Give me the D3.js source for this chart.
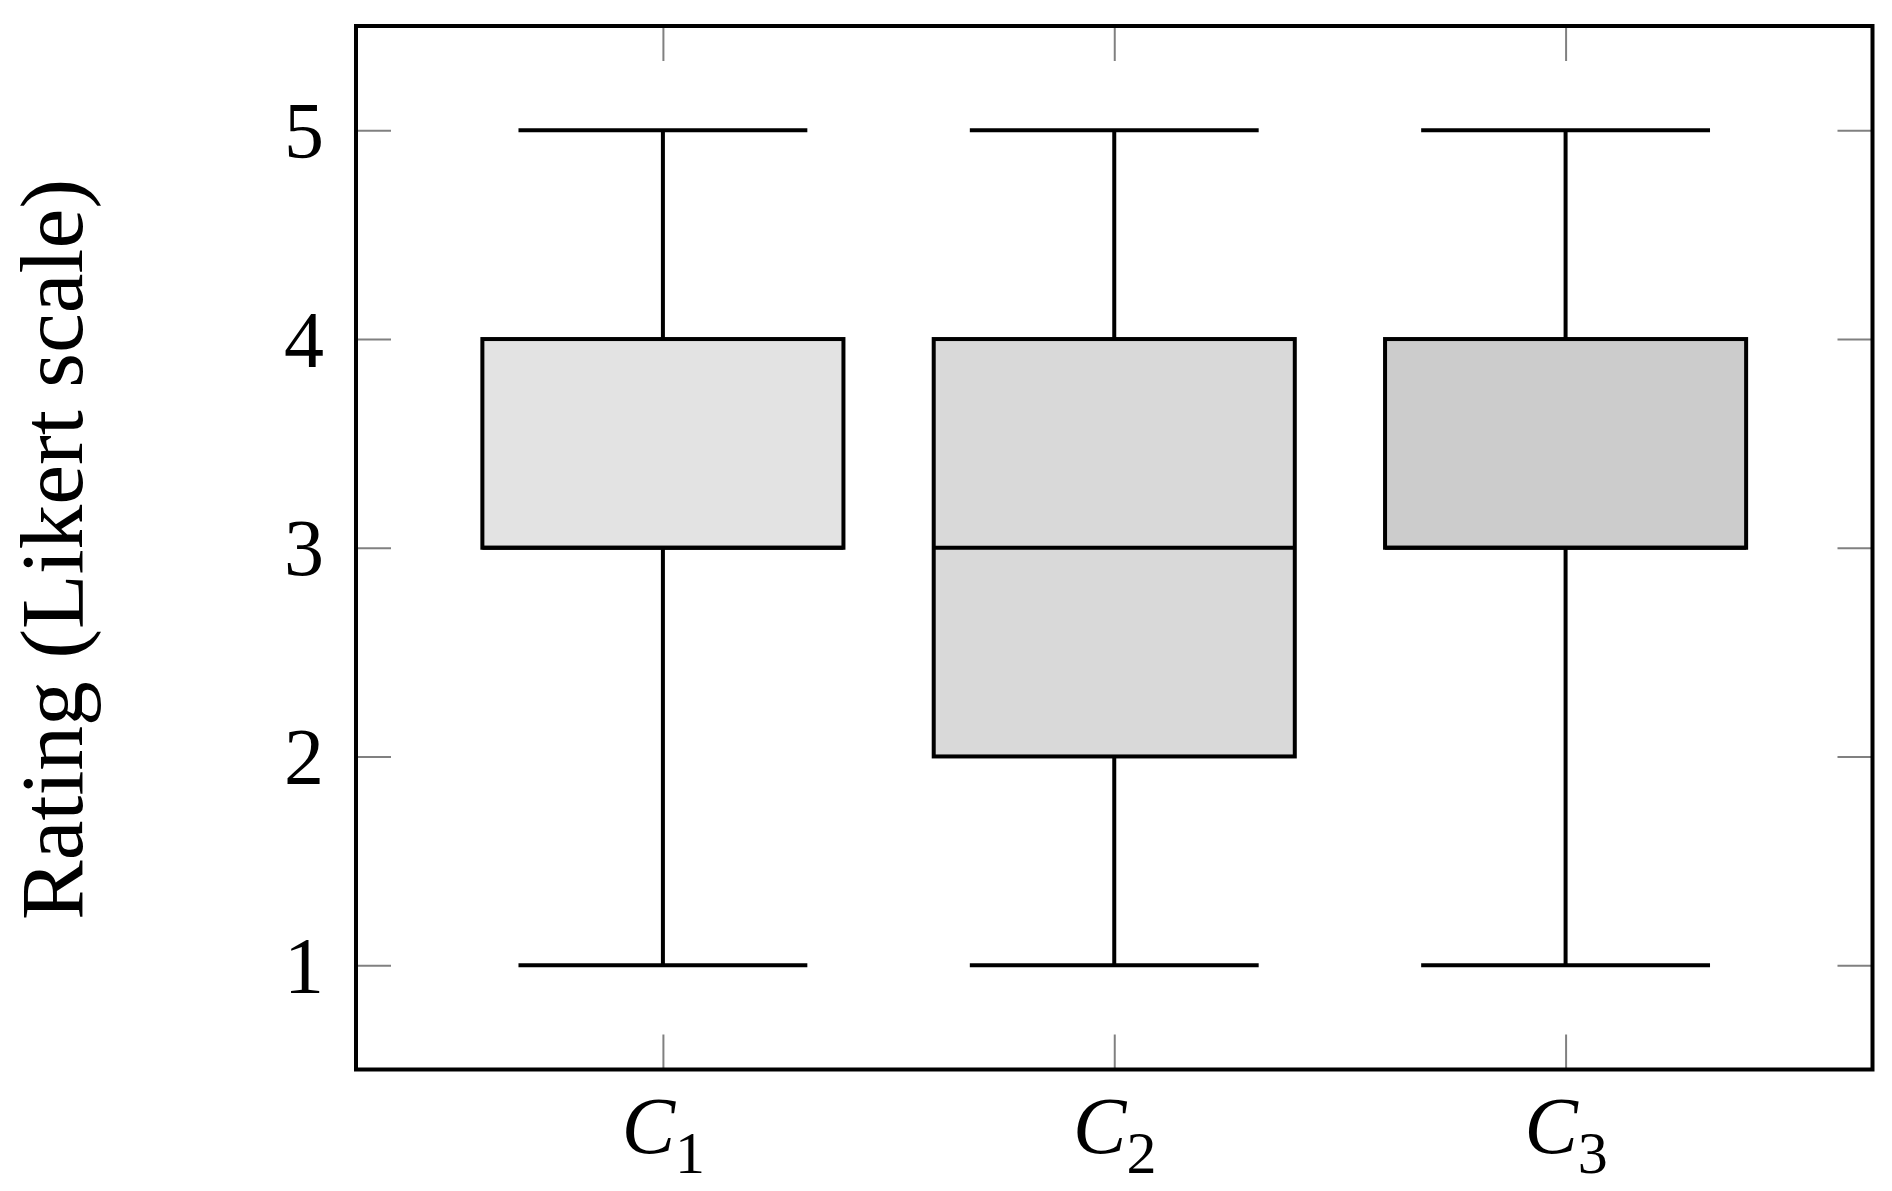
<!DOCTYPE html>
<html>
<head>
<meta charset="utf-8">
<script src="https://cdn.jsdelivr.net/npm/d3@7"></script>
<style>
  html, body { margin: 0; padding: 0; background: #ffffff; }
  svg { display: block; }
  text { font-family: "Liberation Serif", "DejaVu Serif", serif; fill: #000; }
</style>
</head>
<body>
<script>
// ---- data ----
const categories = ["C1", "C2", "C3"];
const categoryPositions = [1, 2, 3];
const subscripts = ["1", "2", "3"];
const lowerWhisker = [1, 1, 1];
const lowerQuartile = [3, 2, 3];
const medianValues = [3, 3, 3];
const upperQuartile = [4, 4, 4];
const upperWhisker = [5, 5, 5];
const boxFills = ["#e3e3e3", "#d9d9d9", "#cccccc"];
const yTickValues = [1, 2, 3, 4, 5];
const yTitle = "Rating (Likert scale)";

// ---- layout ----
const W = 1892, H = 1191;
const svg = d3.select("body").append("svg").attr("width", W).attr("height", H);

const x = d3.scaleLinear().domain([0.32, 3.68]).range([356, 1872.5]);
const y = d3.scaleLinear().domain([0.5, 5.5]).range([1069.5, 26]);
const boxHalf = 0.4, capHalf = 0.32;

const rows = categories.map((c, i) => ({
  c, pos: categoryPositions[i], lo: lowerWhisker[i], q1: lowerQuartile[i],
  med: medianValues[i], q3: upperQuartile[i], hi: upperWhisker[i], fill: boxFills[i], sub: subscripts[i]
}));

const plot = svg.append("g");
rows.forEach(d => {
  const g = plot.append("g");
  g.append("line").attr("x1", x(d.pos)).attr("x2", x(d.pos)).attr("y1", y(d.hi)).attr("y2", y(d.q3))
    .attr("stroke", "#000").attr("stroke-width", 4);
  g.append("line").attr("x1", x(d.pos)).attr("x2", x(d.pos)).attr("y1", y(d.q1)).attr("y2", y(d.lo))
    .attr("stroke", "#000").attr("stroke-width", 4);
  [d.hi, d.lo].forEach(v => {
    g.append("line").attr("x1", x(d.pos - capHalf)).attr("x2", x(d.pos + capHalf))
      .attr("y1", y(v)).attr("y2", y(v)).attr("stroke", "#000").attr("stroke-width", 4);
  });
  g.append("rect").attr("x", x(d.pos - boxHalf)).attr("y", y(d.q3))
    .attr("width", x(d.pos + boxHalf) - x(d.pos - boxHalf)).attr("height", y(d.q1) - y(d.q3))
    .attr("fill", d.fill).attr("stroke", "#000").attr("stroke-width", 4);
  g.append("line").attr("x1", x(d.pos - boxHalf)).attr("x2", x(d.pos + boxHalf))
    .attr("y1", y(d.med)).attr("y2", y(d.med)).attr("stroke", "#000").attr("stroke-width", 4);
});

// ---- axes (inward gray ticks on all four sides) ----
const TL = 35;
const tickFont = 80;
function styleAxis(g) {
  g.select(".domain").remove();
  g.selectAll(".tick line").attr("stroke", "#808080").attr("stroke-width", 2);
  g.selectAll(".tick text").attr("font-size", tickFont).attr("fill", "#000")
    .attr("font-family", '"Liberation Serif", serif');
}
const yLeft = svg.append("g").attr("transform", `translate(${x.range()[0]},0)`)
  .call(d3.axisLeft(y).tickValues(yTickValues).tickSize(-TL).tickPadding(32).tickFormat(d3.format("d")));
styleAxis(yLeft);
yLeft.selectAll(".tick text").attr("dy", "0.34em");

const yRight = svg.append("g").attr("transform", `translate(${x.range()[1]},0)`)
  .call(d3.axisRight(y).tickValues(yTickValues).tickSize(-TL).tickFormat(""));
styleAxis(yRight);

const xBottom = svg.append("g").attr("transform", `translate(0,${y.range()[0]})`)
  .call(d3.axisBottom(x).tickValues(categoryPositions).tickSize(-TL).tickPadding(0).tickFormat(""));
styleAxis(xBottom);
xBottom.selectAll(".tick").each(function(v, i) {
  const t = d3.select(this).select("text");
  t.attr("y", 0).attr("dy", 83).attr("text-anchor", "middle").attr("font-size", tickFont);
  t.text(null);
  t.append("tspan").attr("font-style", "italic").text("C");
  t.append("tspan").attr("font-size", tickFont * 0.75).attr("dy", 20).text(rows[i].sub);
});

const xTop = svg.append("g").attr("transform", `translate(0,${y.range()[1]})`)
  .call(d3.axisTop(x).tickValues(categoryPositions).tickSize(-TL).tickFormat(""));
styleAxis(xTop);

// frame
svg.append("rect").attr("x", x.range()[0]).attr("y", y.range()[1])
  .attr("width", x.range()[1] - x.range()[0]).attr("height", y.range()[0] - y.range()[1])
  .attr("fill", "none").attr("stroke", "#000").attr("stroke-width", 4);

// y title
const title = svg.append("text").attr("text-anchor", "middle")
  .attr("transform", `translate(82,${(179 + 920) / 2}) rotate(-90)`)
  .attr("font-size", 80).text(yTitle);
const len = title.node().getComputedTextLength();
title.attr("font-size", 80 * 741 / len);
</script>
</body>
</html>
